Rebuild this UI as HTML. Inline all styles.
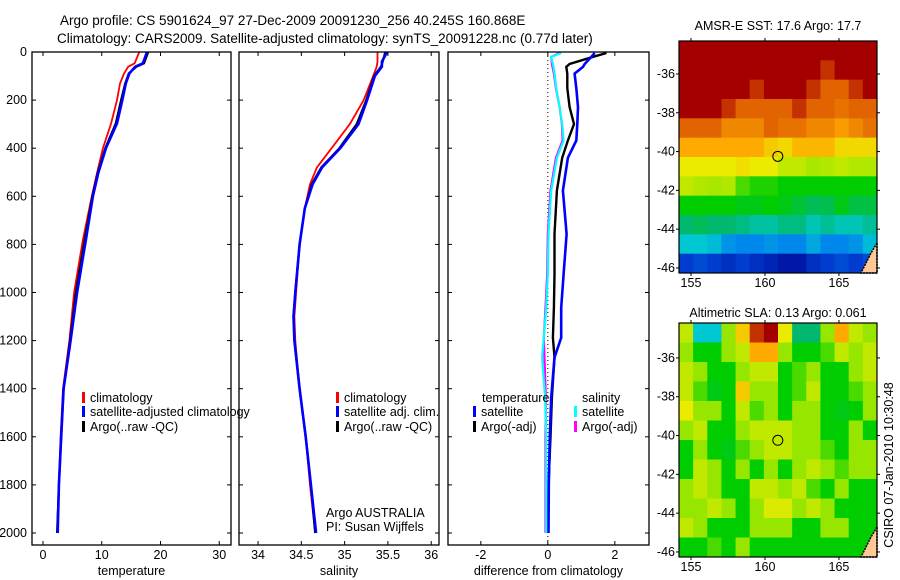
<!DOCTYPE html>
<html><head><meta charset="utf-8"><style>
html,body{margin:0;padding:0;background:#fff;}
svg{display:block;font-family:"Liberation Sans",sans-serif;}
text{font-size:12.5px;fill:#000;}
</style></head><body>
<svg id="fig" width="900" height="580" viewBox="0 0 900 580" xmlns="http://www.w3.org/2000/svg">
<text x="60" y="25" style="font-size:13.5px">Argo profile: CS 5901624_97 27-Dec-2009 20091230_256 40.245S 160.868E</text>
<text x="57" y="43" style="font-size:13.5px">Climatology: CARS2009. Satellite-adjusted climatology: synTS_20091228.nc (0.77d later)</text>
<text x="778" y="30" text-anchor="middle">AMSR-E SST: 17.6 Argo: 17.7</text>
<text x="778" y="317" text-anchor="middle">Altimetric SLA: 0.13 Argo: 0.061</text>
<text transform="translate(893,465) rotate(-90)" text-anchor="middle">CSIRO 07-Jan-2010 10:30:48</text>
<text x="326" y="517">Argo AUSTRALIA</text>
<text x="326" y="531">PI: Susan Wijffels</text>
</svg>
<script>
// ---- profile data ----
const tempDepth = [0,47,61,89,131,200,297,400,504,600,781,1000,1200,1400,1600,1800,2000];
const tempClim  = [16.4,15.6,14.5,13.8,13.1,12.6,11.6,10.2,9.2,8.3,6.8,5.3,4.5,3.4,3.0,2.7,2.4];
const tempSat   = [17.7,17.0,15.7,14.7,14.1,13.5,12.6,10.7,9.4,8.5,7.3,5.8,4.7,3.5,3.1,2.7,2.5];
const tempArgo  = [17.9,17.2,15.9,14.6,14.0,13.3,12.4,10.6,9.3,8.4,7.1,5.6,4.6,3.5,3.1,2.7,2.4];
const salDepth = [0,40,61,100,200,300,400,480,550,650,800,1000,1100,1200,1400,1600,1800,2000];
const salClim  = [35.38,35.38,35.37,35.33,35.22,35.06,34.85,34.68,34.60,34.54,34.48,34.44,34.42,34.43,34.48,34.55,34.60,34.66];
const salSat   = [35.49,35.43,35.43,35.35,35.26,35.16,34.95,34.74,34.63,34.54,34.48,34.43,34.41,34.42,34.48,34.55,34.61,34.67];
const salArgo  = [35.47,35.44,35.42,35.34,35.25,35.14,34.94,34.73,34.62,34.54,34.48,34.43,34.41,34.42,34.48,34.55,34.61,34.66];
const diffDepth = [4,20,50,62,90,150,229,300,368,440,576,757,924,1063,1188,1270,1437,1600,1800,2000];
const diffTSat  = [1.4,1.3,1.1,1.05,0.8,0.85,0.9,0.88,0.85,0.6,0.45,0.56,0.47,0.4,0.4,0.2,0.1,0.06,0.03,0.02];
const diffTArgo = [1.75,1.35,0.65,0.55,0.58,0.58,0.65,0.78,0.6,0.43,0.27,0.2,0.2,0.18,0.15,0.2,0.12,0.08,0.02,0.0];
const diffSSat  = [0.4,0.1,0.15,0.17,0.2,0.25,0.35,0.43,0.47,0.27,0.1,0.02,0.0,-0.05,-0.12,-0.17,-0.08,-0.05,-0.05,-0.05];
const diffSArgo = [0.35,0.1,0.12,0.14,0.18,0.24,0.35,0.42,0.44,0.24,0.08,0.0,-0.02,-0.07,-0.12,-0.1,-0.06,-0.07,-0.07,-0.07];
const depthTicks = [0,200,400,600,800,1000,1200,1400,1600,1800,2000];
const tempTicks = [0,10,20,30];
const salTicks = [34,34.5,35,35.5,36];
const salTickLabels = ["34","34.5","35","35.5","36"];
const diffTicks = [-2,0,2];
// ---- map data (14 cols x 12 rows, colour index 0..10) ----
const sstGrid = [
[10,10,10,10,10,10,10,10,10,10,10,10,10,10],
[10,10,10,10,10,10,10,10,10,10,9.5,10,10,10],
[10,10,10,10,10,9.5,10,10,10,9.5,9,9,9.5,10],
[10,10,10,9.5,9,9,9,9,9.5,9,9,8.8,9,9],
[9,9,9,8.5,8.5,8.5,9,8.8,8.8,8.5,8.5,8.2,8.5,8.8],
[8,8,8,8,8,8,7.5,7.3,7.8,7.8,7.8,7.3,7.3,7.3],
[7,7,7,7,7.2,7,7,6.5,6.5,6.2,6.3,6.5,6.3,6.3],
[6.5,6.3,6.2,6.3,5.5,5.2,5.2,5,5,5,5,5,5,5],
[5,5,5,5,4.8,4.8,5,4.8,4.5,4.2,4.3,4.8,4.4,4.4],
[4,4.2,4,4,3.8,3.5,3.5,3.8,3.8,3.3,3.6,3.3,3.3,3.6],
[3,3,2.8,2.2,2,2,2.2,2,2,2.5,2,2,2.2,2.8],
[1,1.2,1,0.8,1,0.8,0.6,0.4,0.4,0.8,1,1.2,1,1.2]];
const slaGrid = [
[6.5,3,3,6,7.5,9.5,10,7,4,4,6,8,6.5,6],
[6,5,5,6,6.5,8,8,6,5,5,5.5,6.5,6,6.5],
[6.5,6,5,5,6,6.5,6.5,5,5.5,6,5,5,6,6.5],
[6.5,5.5,4.8,5,7.5,6,6,5,5.5,6.5,5,5,5.5,6],
[7,6,6,5,6.5,5.5,6,5,6,6,5,4.8,5,6],
[6,6.5,5,5,6,6.5,6.5,6.5,6,6,5,5,6,5],
[5,6,5,4.8,5.5,6,6.5,6.5,6,6,5.5,5,6,6],
[5,6.5,6,5,6,5,6,5,6,6.5,6,5.5,6,6],
[6,6.5,6,5,5,6.5,6.5,6,6.5,5.5,5,6,5,5],
[6,6,6.5,6,5,6,6.8,6.8,6,6.5,6,5,5,5],
[6.5,6,5,5,5,6,6,6,5,5,6,6,5,5],
[5,5,5.5,5,6,5,5,5,5,5,5,5,5,5]];
const latTicks = [-36,-38,-40,-42,-44,-46];
const lonTicks = [155,160,165];
const argoLon = 160.868, argoLat = -40.245;

const NS='http://www.w3.org/2000/svg';
const svg=document.getElementById('fig');
function mk(tag,attrs,parent){const e=document.createElementNS(NS,tag);for(const k in attrs)e.setAttribute(k,attrs[k]);(parent||svg).appendChild(e);return e;}
function txt(s,x,y,anchor,parent){const t=mk('text',{x:x,y:y,'text-anchor':anchor||'start'},parent);t.textContent=s;return t;}

const TOP=52,BOT=545;
function yDepth(d){return TOP+d*0.2405;}
const panels=[
 {name:'temperature',x0:32,x1:231,xmin:-1.87,xmax:32.0,ticks:tempTicks,labels:tempTicks.map(String),
  series:[[tempDepth,tempClim,'#ff0000',1.8,'climatology-line'],[tempDepth,tempArgo,'#000',2.2,'argo-line'],[tempDepth,tempSat,'#0000ff',2.6,'satellite-line']]},
 {name:'salinity',x0:239,x1:439,xmin:33.78,xmax:36.09,ticks:salTicks,labels:salTickLabels,
  series:[[salDepth,salClim,'#ff0000',1.8,'climatology-line'],[salDepth,salArgo,'#000',2.2,'argo-line'],[salDepth,salSat,'#0000ff',2.6,'satellite-line']]},
 {name:'difference from climatology',x0:448,x1:649,xmin:-2.98,xmax:3.02,ticks:diffTicks,labels:diffTicks.map(String),
  series:[[diffDepth,diffTArgo,'#000',2.4,'temp-argo-diff-line'],[diffDepth,diffTSat,'#0000ff',2.6,'temp-satellite-diff-line'],[diffDepth,diffSArgo,'#ff00ff',2.2,'sal-argo-diff-line'],[diffDepth,diffSSat,'#00ffff',2.2,'sal-satellite-diff-line']]}
];
panels.forEach((p,pi)=>{
  const g=mk('g',{});
  
  
  const xs=v=>p.x0+(v-p.xmin)/(p.xmax-p.xmin)*(p.x1-p.x0);
  if(pi===2){const zl=mk('line',{x1:xs(0),x2:xs(0),y1:TOP,y2:BOT,stroke:'#000','stroke-dasharray':'1,3','stroke-width':1},g);
    }
  p.series.forEach(s=>{
    const pts=s[0].map((d,i)=>xs(s[1][i]).toFixed(1)+','+yDepth(d).toFixed(1)).join(' ');
    const pl=mk('polyline',{points:pts,fill:'none',stroke:s[2],'stroke-width':s[3]},g);
    
    
  });
  const box=mk('rect',{x:p.x0,y:TOP,width:p.x1-p.x0,height:BOT-TOP,fill:'none',stroke:'#000','stroke-width':1.3},g);
  
  depthTicks.forEach(d=>{const y=yDepth(d);
    mk('line',{x1:p.x0,x2:p.x0+4,y1:y,y2:y,stroke:'#000'},g);mk('line',{x1:p.x1-4,x2:p.x1,y1:y,y2:y,stroke:'#000'},g);
    if(pi===0){const t=txt(String(d),27,y+4,'end',g);}
  });
  p.ticks.forEach((v,i)=>{const x=xs(v);
    mk('line',{x1:x,x2:x,y1:BOT,y2:BOT-4,stroke:'#000'},g);mk('line',{x1:x,x2:x,y1:TOP,y2:TOP+4,stroke:'#000'},g);
    const t=txt(p.labels[i],x,559,'middle',g);
  });
  const xl=txt(p.name,(p.x0+p.x1)/2,575,'middle',g);
  
});
// legends
function legendEntry(x,y,color,label){
  const g=mk('g',{});
  
  
  if(color)mk('rect',{x:x,y:y-10,width:3,height:11,fill:color},g);
  txt(label,x+8,y,'start',g);
}
legendEntry(82,402,'#ff0000','climatology');
legendEntry(82,416,'#0000ff','satellite-adjusted climatology');
legendEntry(82,431,'#000','Argo(..raw -QC)');
legendEntry(336,402,'#ff0000','climatology');
legendEntry(336,416,'#0000ff','satellite adj. clim.');
legendEntry(336,431,'#000','Argo(..raw -QC)');
legendEntry(474,402,null,'temperature');
legendEntry(473,416,'#0000ff','satellite');
legendEntry(473,431,'#000','Argo(-adj)');
legendEntry(574,402,null,'salinity');
legendEntry(574,416,'#00ffff','satellite');
legendEntry(574,431,'#ff00ff','Argo(-adj)');

// maps
const cmap=[[0,0,140],[0,60,205],[0,135,235],[0,200,210],[0,185,110],[0,205,0],[150,230,0],[235,235,0],[255,170,0],[225,100,0],[165,0,0]];
function col(v){v=Math.max(0,Math.min(10,v));const i=Math.min(9,Math.floor(v)),f=v-i;const a=cmap[i],b=cmap[i+1];
  return 'rgb('+a.map((c,k)=>Math.round(c+(b[k]-c)*f)).join(',')+')';}
function drawMap(grid,top,bottom,latTop,name){
  const L=679,R=877,lonMin=154.19,lonMax=167.57,latBot=-46.26;
  const lx=v=>L+(v-lonMin)/(lonMax-lonMin)*(R-L);
  const ly=v=>top+(latTop-v)/(latTop-latBot)*(bottom-top);
  const g=mk('g',{});
  
  
  const rows=grid.length,cols=grid[0].length,cw=(R-L)/cols,ch=(bottom-top)/rows;
  grid.forEach((row,r)=>row.forEach((v,c)=>{
    const cell=mk('rect',{x:(L+c*cw).toFixed(2),y:(top+r*ch).toFixed(2),width:(cw+0.5).toFixed(2),height:(ch+0.5).toFixed(2),fill:col(v)},g);
    
    
  }));
  const land=mk('polygon',{points:`${R},${bottom-30} ${R},${bottom} ${R-16},${bottom} ${R-6},${bottom-20}`,fill:'#ffc896',stroke:'#000','stroke-width':1.5,'stroke-dasharray':'2,1'},g);
  
  mk('rect',{x:L,y:top,width:R-L,height:bottom-top,fill:'none',stroke:'#000','stroke-width':1.2},g);
  latTicks.forEach(v=>{const y=ly(v);mk('line',{x1:L-3,x2:L,y1:y,y2:y,stroke:'#000'},g);mk('line',{x1:R,x2:R+3,y1:y,y2:y,stroke:'#000'},g);
    const t=txt(String(v),675,y+4,'end',g);});
  lonTicks.forEach(v=>{const x=lx(v);mk('line',{x1:x,x2:x,y1:top-3,y2:top,stroke:'#000'},g);mk('line',{x1:x,x2:x,y1:bottom,y2:bottom+3,stroke:'#000'},g);
    const t=txt(String(v),x,bottom+14,'middle',g);});
  const m=mk('circle',{cx:lx(argoLon),cy:ly(argoLat),r:5,fill:'none',stroke:'#000','stroke-width':1},g);
  
}
drawMap(sstGrid,41,273,-34.3,'sst-map');
drawMap(slaGrid,323,557,-34.2,'sla-map');
</script>
</body></html>
